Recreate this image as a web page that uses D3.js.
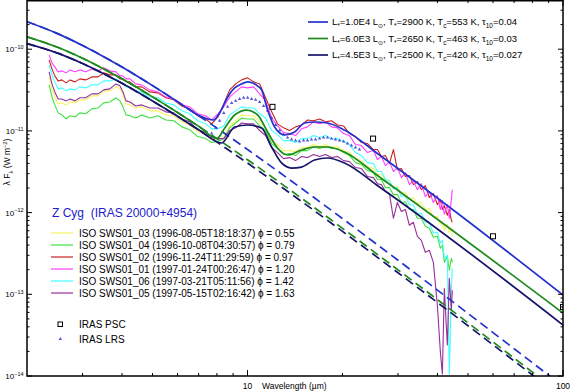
<!DOCTYPE html>
<html><head><meta charset="utf-8">
<script src="https://cdn.jsdelivr.net/npm/d3@7"></script>
<style>
body{margin:0;background:#fff}
svg{display:block;font-family:"Liberation Sans",Arial,Helvetica,sans-serif}
</style>
</head><body>
<svg id="c" width="570" height="392"></svg>
<script>
// ---------------- DATA ----------------
// ISO SWS spectra: common wavelength grid (micron); fluxes in units of 1e-12 W m^-2
const ISO_UNIT = 1e-12;
const isoWavelength = [2.35,2.40,2.45,2.51,2.58,2.66,2.74,2.84,2.94,3.07,3.21,3.36,3.50,3.66,3.83,3.94,4.03,4.12,4.24,4.42,4.62,4.90,5.20,5.51,5.84,6.19,6.56,6.95,7.37,7.70,8.05,8.41,8.78,9.17,9.58,10.01,10.45,10.93,11.41,11.93,12.45,13.01,13.59,14.20,14.84,15.50,16.19,16.92,17.67,18.46,19.29,20.15,21.05,21.99,22.97,24.00,25.07,25.81,26.58,27.36,28.17,29.00,29.86,30.74,31.65,32.59,33.55,34.55,35.57,36.61,37.70,38.82,39.97,40.86,41.46,42.06,42.99,43.62,44.26,44.59];
const sws01_03 = [45.8,32.7,26.1,21.4,22.0,20.8,22.6,22.0,24.0,24.0,26.8,26.8,30.9,30.9,34.6,32.7,27.6,21.4,20.8,19.1,19.7,17.6,17.6,15.7,15.3,12.9,11.8,9.81,9.01,7.83,7.83,8.28,11.5,13.3,15.7,15.3,15.3,12.9,10.9,7.61,6.80,5.74,5.74,5.58,6.25,6.25,6.80,6.43,6.80,6.25,6.43,5.74,5.43,4.58,4.33,3.66,3.46,2.92,2.92,2.46,2.46,2.02,2.08,1.71,1.76,1.44,1.53,1.29,1.33,1.09,1.12,0.876,0.901,0.720,0.761,0.608,0.720,0.574,0.643,0.513];
const sws01_04 = [36.6,26.1,20.8,16.6,15.7,14.0,15.3,14.8,16.6,16.2,18.6,19.1,22.0,22.6,25.4,23.3,19.7,15.7,15.3,14.4,15.7,14.4,15.3,13.6,13.3,11.2,10.3,8.52,8.05,7.20,7.40,8.05,10.9,12.5,14.4,14.0,14.0,11.5,10.1,7.00,6.08,5.13,5.28,4.99,5.74,5.74,6.43,6.08,6.43,6.08,6.08,5.43,4.99,4.09,3.87,3.27,3.09,2.54,2.54,2.02,2.02,1.66,1.66,1.33,1.36,1.09,1.09,0.852,0.852,0.680,0.643,0.499,0.513,0.366,0.398,0.246,0.292,0.197,0.276,0.246];
const sws01_02 = [74.0,57.4,47.1,40.9,42.1,38.7,42.1,39.8,43.3,42.1,45.8,45.8,51.3,48.5,48.5,43.3,43.3,39.8,39.8,34.6,34.6,30.0,29.2,25.4,24.0,20.2,18.6,15.3,14.0,12.2,14.8,21.4,31.8,37.6,42.1,44.6,39.8,37.6,25.4,17.1,12.2,10.9,10.1,11.2,11.8,13.6,13.3,14.0,12.9,13.3,11.8,11.5,9.27,8.52,7.20,7.00,5.91,5.91,4.85,4.99,3.98,5.91,3.36,3.46,2.76,2.84,2.20,2.40,1.91,2.14,1.53,1.71,1.25,1.44,1.09,1.22,0.927,1.09,0.805,0.761];
const sws01_01 = [85.2,68.0,60.8,52.8,54.3,51.3,55.8,52.8,55.8,52.8,57.4,54.3,59.1,54.3,52.8,47.1,47.1,43.3,43.3,37.6,36.6,31.8,30.0,26.1,24.6,20.8,19.7,16.2,15.3,13.6,16.2,19.7,26.1,30.0,34.6,33.6,34.6,28.4,23.3,14.4,11.5,9.53,9.27,8.76,10.6,11.2,12.9,12.2,12.9,11.2,10.9,9.27,8.76,6.80,6.61,5.43,5.74,4.46,4.85,3.76,4.21,3.18,3.56,2.68,3.09,2.20,2.46,1.91,2.26,1.57,1.81,1.33,1.62,1.09,1.40,0.953,1.25,0.852,1.44,1.91];
const sws01_06 = [64.3,48.5,39.8,32.7,33.6,30.9,32.7,31.8,34.6,33.6,36.6,36.6,40.9,40.9,43.3,39.8,38.7,34.6,34.6,30.0,30.0,26.1,25.4,22.0,20.8,17.6,16.2,13.3,12.2,10.6,10.6,11.5,15.7,17.6,19.7,19.1,19.1,16.2,14.4,10.1,9.01,7.61,7.61,7.20,8.05,8.05,8.76,8.28,8.76,8.05,8.05,7.40,6.80,5.43,4.99,4.09,3.98,3.18,3.18,2.54,2.46,1.97,2.02,1.57,1.62,1.25,1.25,0.953,0.981,0.761,0.761,0.558,0.574,0.421,0.458,0.276,0.300,0.0106,0.112,0.208];
const sws01_05 = [52.8,37.6,30.0,24.6,24.6,23.3,24.6,23.3,25.4,25.4,28.4,28.4,31.8,32.7,37.6,35.6,30.0,23.3,22.6,20.2,20.8,19.1,19.1,17.1,16.6,14.0,12.9,10.3,9.53,8.28,8.05,8.05,10.1,10.9,12.5,12.2,12.2,10.1,8.76,6.25,5.43,4.58,4.71,4.33,4.85,4.71,5.13,4.85,5.13,4.71,4.85,4.33,4.21,3.56,3.46,2.76,2.68,2.26,2.20,1.81,1.71,0.852,1.33,1.03,1.09,0.700,0.761,0.513,0.458,0.327,0.346,0.246,0.0740,0.0197,0.0106,0.118,0.0240,0.157,0.0643,0.112];

const swsLabels = [
  "ISO SWS01_03 (1996-08-05T18:18:37) \u03d5 = 0.55",
  "ISO SWS01_04 (1996-10-08T04:30:57) \u03d5 = 0.79",
  "ISO SWS01_02 (1996-11-24T11:29:59) \u03d5 = 0.97",
  "ISO SWS01_01 (1997-01-24T00:26:47) \u03d5 = 1.20",
  "ISO SWS01_06 (1997-03-21T05:11:56) \u03d5 = 1.42",
  "ISO SWS01_05 (1997-05-15T02:16:42) \u03d5 = 1.63"
];
const swsValues = [sws01_03, sws01_04, sws01_02, sws01_01, sws01_06, sws01_05];
const swsColors = ["#f6f263", "#3fe03f", "#cc2020", "#ff40ff", "#40ffff", "#96309a"];
const swsDrawOrder = [0, 1, 4, 2, 3, 5];

// IRAS LRS (micron, W m^-2 in 1e-12 units)
const lrsWavelength = [7.70,7.93,8.16,8.41,8.65,8.91,9.17,9.44,9.72,10.01,10.30,10.61,10.93,11.25,11.58,11.93,12.28,12.64,13.01,13.40,13.79,14.20,14.62,15.05,15.50,15.95,16.43,16.92,17.41,17.93,18.46,19.01,19.57,20.15,20.74,21.36,21.99,22.63];
const lrsFlux = [9.27,10.9,13.3,16.6,19.7,22.0,23.3,24.6,25.4,25.4,24.6,24.0,22.6,20.2,17.6,14.4,11.8,10.1,9.01,8.28,7.83,7.61,7.40,7.61,7.61,7.83,7.83,8.05,8.28,8.28,8.05,7.83,7.61,7.40,7.00,6.61,6.25,5.91];

// IRAS PSC photometry
const pscWavelength = [12, 25, 60, 100];
const pscFlux = [1.97e-11, 8.05e-12, 5.13e-13, 7.0e-14];

// Models: total (solid) and stellar photosphere (dashed)
const modelLabels = [
  [["L"],["*","sub"],["=1.0E4 L"],["\u2299","sub"],[", T"],["*","sub"],["=2900 K, T"],["c","sub"],["=553 K, \u03c4"],["10","sub"],["=0.04"]],
  [["L"],["*","sub"],["=6.0E3 L"],["\u2299","sub"],[", T"],["*","sub"],["=2650 K, T"],["c","sub"],["=463 K, \u03c4"],["10","sub"],["=0.03"]],
  [["L"],["*","sub"],["=4.5E3 L"],["\u2299","sub"],[", T"],["*","sub"],["=2500 K, T"],["c","sub"],["=420 K, \u03c4"],["10","sub"],["=0.027"]]
];
const modelColors = ["#2233cc", "#1e8a1e", "#15156a"];
const modelAWavelength = [2,2.5,3,3.5,4,5,6,7,7.81,8.16,8.65,9.10,9.55,10.03,10.77,11.08,11.58,12.19,13.11,14.10,15.16,16.31,17.93,20.29,26.19,43.6,100];
const modelAFlux = [2.17e-10,1.551e-10,1.110e-10,8.10e-11,6.05e-11,3.58e-11,2.28e-11,1.55e-11,1.36e-11,1.656e-11,2.60e-11,3.35e-11,3.74e-11,3.97e-11,3.54e-11,3.17e-11,1.80e-11,1.116e-11,8.91e-12,9.69e-12,1.249e-11,1.285e-11,1.249e-11,1.026e-11,5.07e-12,1.171e-12,9.80e-14];
const modelBWavelength = [2,2.5,3,3.5,4,5,6,7,8.0,8.47,9.10,9.94,10.77,11.58,12.45,13.40,14.84,16.31,17.93,20.29,26.19,100];
const modelBFlux = [1.42e-10,1.055e-10,7.74e-11,5.74e-11,4.34e-11,2.61e-11,1.68e-11,1.138e-11,8.1e-12,1.085e-11,1.565e-11,1.80e-11,1.565e-11,9.69e-12,6.18e-12,5.07e-12,5.84e-12,6.35e-12,6.35e-12,5.52e-12,2.73e-12,5.90e-14];
const modelCWavelength = [2,2.5,3,3.5,4,5,6,7,8.28,9.10,10.03,11.08,11.92,12.82,13.79,14.84,16.31,17.93,20.29,26.19,100];
const modelCFlux = [1.17e-10,8.94e-11,6.67e-11,5.01e-11,3.82e-11,2.32e-11,1.506e-11,1.03e-11,7.11e-12,1.116e-11,1.181e-11,1.085e-11,6.35e-12,4.05e-12,3.51e-12,3.61e-12,4.40e-12,4.66e-12,4.05e-12,2.06e-12,4.21e-14];
const photWavelength = [2,2.5,3,3.5,4,5,6,7,8,10,12,15,20,25,30,40,50,60,70,80,90,100];
const photAFlux = [2.17e-10,1.551e-10,1.110e-10,8.10e-11,6.05e-11,3.58e-11,2.28e-11,1.534e-11,1.081e-11,5.92e-12,3.58e-12,1.916e-12,8.44e-13,4.43e-13,2.61e-13,1.125e-13,5.83e-14,3.40e-14,2.156e-14,1.451e-14,1.023e-14,7.48e-15];
const photBFlux = [1.42e-10,1.055e-10,7.74e-11,5.74e-11,4.34e-11,2.61e-11,1.68e-11,1.138e-11,8.05e-12,4.44e-12,2.70e-12,1.451e-12,6.42e-13,3.38e-13,1.99e-13,8.61e-14,4.47e-14,2.61e-14,1.654e-14,1.114e-14,7.85e-15,5.74e-15];
const photCFlux = [1.17e-10,8.94e-11,6.67e-11,5.01e-11,3.82e-11,2.32e-11,1.506e-11,1.026e-11,7.28e-12,4.04e-12,2.46e-12,1.327e-12,5.89e-13,3.11e-13,1.833e-13,7.93e-14,4.12e-14,2.41e-14,1.527e-14,1.028e-14,7.25e-15,5.30e-15];

// axes
const xMajorTicks = [10, 100];
const xMajorLabels = ["10", "100"];
const xMinorTicks = [3,4,5,6,7,8,9,20,30,40,50,60,70,80,90];
const yDecadeExponents = [-14,-13,-12,-11,-10];
const xTitle = "Wavelength (\u00b5m)";
const objectTitle = "Z Cyg\u00a0\u00a0(IRAS 20000+4954)";

// ---------------- DRAW ----------------
const svg = d3.select("#c");
const L = 27, R = 563, T = 0, B = 376;
const x = d3.scaleLog().domain([2, 100]).range([L, R]);
const y = d3.scaleLog().domain([1e-14, 4e-10]).range([B, T]);

svg.append("defs").append("clipPath").attr("id", "clip")
  .append("rect").attr("x", L).attr("y", T).attr("width", R - L).attr("height", B - T);
const plotG = svg.append("g").attr("clip-path", "url(#clip)");

const zip = (a, b, k = 1) => a.map((v, i) => [v, b[i] * k]);
const lineLin = d3.line().x(d => x(d[0])).y(d => y(d[1]));
const lineSmooth = d3.line().x(d => x(d[0])).y(d => y(d[1])).curve(d3.curveMonotoneX);

// ISO spectra
swsDrawOrder.forEach(i => {
  plotG.append("path").attr("d", lineLin(zip(isoWavelength, swsValues[i], ISO_UNIT)))
    .attr("fill", "none").attr("stroke", swsColors[i]).attr("stroke-width", 1.1)
    .attr("stroke-linejoin", "round");
});

// IRAS LRS
const tri = d3.symbol().type(d3.symbolTriangle).size(5);
plotG.selectAll("path.lrs").data(zip(lrsWavelength, lrsFlux, ISO_UNIT)).enter()
  .append("path").attr("class", "lrs").attr("d", tri)
  .attr("transform", d => `translate(${x(d[0])},${y(d[1])})`)
  .attr("fill", "#5252dc");

// models
const photFluxes = [photAFlux, photBFlux, photCFlux];
photFluxes.forEach((f, i) => {
  plotG.append("path").attr("d", lineSmooth(zip(photWavelength, f)))
    .attr("fill", "none").attr("stroke", modelColors[i]).attr("stroke-width", 1.7)
    .attr("stroke-dasharray", "9,5");
});
const modelSets = [[modelAWavelength, modelAFlux], [modelBWavelength, modelBFlux], [modelCWavelength, modelCFlux]];
modelSets.forEach(([w, f], i) => {
  plotG.append("path").attr("d", lineSmooth(zip(w, f)))
    .attr("fill", "none").attr("stroke", modelColors[i]).attr("stroke-width", 1.7);
});

// IRAS PSC
plotG.selectAll("rect.psc").data(zip(pscWavelength, pscFlux)).enter()
  .append("rect").attr("class", "psc")
  .attr("x", d => x(d[0]) - 2.5).attr("y", d => y(d[1]) - 2.5)
  .attr("width", 5).attr("height", 5)
  .attr("fill", "#fff").attr("stroke", "#000").attr("stroke-width", 1);

// frame
svg.append("rect").attr("x", L).attr("y", T + 0.75).attr("width", R - L).attr("height", B - T - 0.75)
  .attr("fill", "none").attr("stroke", "#000").attr("stroke-width", 1.5);

// ticks
const tk = svg.append("g").attr("stroke", "#000").attr("stroke-width", 1);
xMajorTicks.forEach(v => {
  tk.append("line").attr("x1", x(v)).attr("x2", x(v)).attr("y1", B).attr("y2", B - 6);
  tk.append("line").attr("x1", x(v)).attr("x2", x(v)).attr("y1", T).attr("y2", T + 6);
});
xMinorTicks.forEach(v => {
  tk.append("line").attr("x1", x(v)).attr("x2", x(v)).attr("y1", B).attr("y2", B - 3);
  tk.append("line").attr("x1", x(v)).attr("x2", x(v)).attr("y1", T).attr("y2", T + 3);
});
yDecadeExponents.forEach(e => {
  const v = Math.pow(10, e);
  tk.append("line").attr("x1", L).attr("x2", L + 5).attr("y1", y(v)).attr("y2", y(v));
  tk.append("line").attr("x1", R).attr("x2", R - 5).attr("y1", y(v)).attr("y2", y(v));
  for (let m = 2; m <= 9; m++) {
    const mv = m * v;
    if (mv >= 4e-10) break;
    tk.append("line").attr("x1", L).attr("x2", L + 2.5).attr("y1", y(mv)).attr("y2", y(mv));
    tk.append("line").attr("x1", R).attr("x2", R - 2.5).attr("y1", y(mv)).attr("y2", y(mv));
  }
});

// rich text helper
function rich(sel, parts, size) {
  let off = 0;
  parts.forEach(([s, kind]) => {
    const target = kind === "sub" ? size * 0.3 : kind === "sup" ? -size * 0.4 : 0;
    sel.append("tspan").attr("dy", (target - off).toFixed(2))
      .attr("font-size", kind ? size * 0.68 : size).text(s);
    off = target;
  });
}

// tick labels
xMajorTicks.forEach((v, i) => {
  svg.append("text").attr("x", x(v)).attr("y", 389).attr("text-anchor", "middle")
    .attr("font-size", 8.5).text(xMajorLabels[i]);
});
svg.append("text").attr("x", 262).attr("y", 389).attr("font-size", 8.5).text(xTitle);
yDecadeExponents.forEach(e => {
  const t = svg.append("text").attr("x", 23.5).attr("y", y(Math.pow(10, e)) + 3)
    .attr("text-anchor", "end");
  rich(t, [["10"], [String(e).replace("-", "\u2212"), "sup"]], 8);
});
const yt = svg.append("text").attr("transform", "translate(10,162) rotate(-90)")
  .attr("text-anchor", "middle");
rich(yt, [["\u03bb F"], ["\u03bb", "sub"], [" (W m"], ["\u22122", "sup"], [")"]], 8.5);

// model legend (top right)
const legY = [22, 38.5, 55];
modelLabels.forEach((parts, i) => {
  svg.append("line").attr("x1", 308).attr("x2", 328).attr("y1", legY[i]).attr("y2", legY[i])
    .attr("stroke", modelColors[i]).attr("stroke-width", 1.7);
  const t = svg.append("text").attr("x", 332).attr("y", legY[i] + 3.3);
  rich(t, parts, 9.5);
});

// object title + data legend (bottom left)
svg.append("text").attr("x", 52).attr("y", 216.5).attr("font-size", 12)
  .attr("fill", "#1c1ccc").text(objectTitle);
const sy0 = 233, sdy = 12;
swsLabels.forEach((lab, i) => {
  const yy = sy0 + i * sdy;
  svg.append("line").attr("x1", 51).attr("x2", 73).attr("y1", yy).attr("y2", yy)
    .attr("stroke", swsColors[i]).attr("stroke-width", 1.2);
  svg.append("text").attr("x", 79).attr("y", yy + 3.5).attr("font-size", 10).text(lab);
});
svg.append("rect").attr("x", 58).attr("y", 322).attr("width", 4.5).attr("height", 4.5)
  .attr("fill", "#fff").attr("stroke", "#000").attr("stroke-width", 1);
svg.append("text").attr("x", 79).attr("y", 327.5).attr("font-size", 10).text("IRAS PSC");
svg.append("path").attr("d", tri).attr("transform", "translate(60.3,339)").attr("fill", "#5252dc");
svg.append("text").attr("x", 79).attr("y", 342.5).attr("font-size", 10).text("IRAS LRS");
</script>
</body></html>
